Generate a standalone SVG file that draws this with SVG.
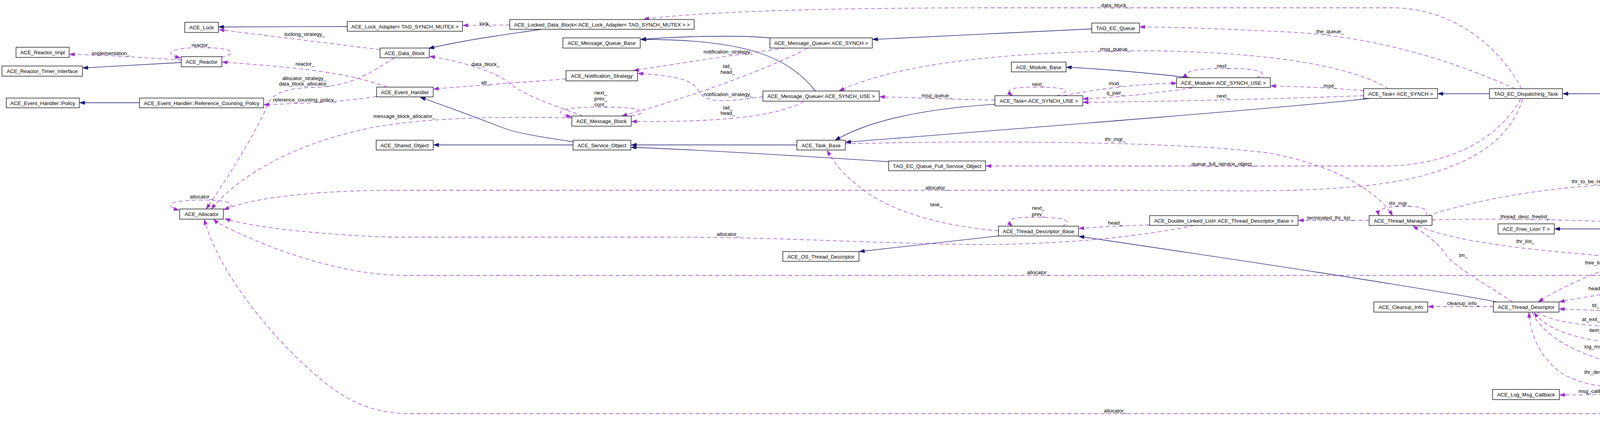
<svg xmlns="http://www.w3.org/2000/svg" width="5088" height="1088" viewBox="0 0 5088 1088">
<style>
.n rect{fill:#fff;stroke:#000;stroke-width:1.3}
.n.focus rect{fill:#bfbfbf}
text{font-family:"Liberation Sans",Arial,Helvetica,sans-serif;font-size:13.33px;text-anchor:middle;fill:#000}
.inh{fill:none;stroke:#191970;stroke-width:1.3;marker-end:url(#ai)}
.use{fill:none;stroke:#9a32cd;stroke-width:1.3;stroke-dasharray:10,7;marker-end:url(#au)}
</style>
<defs>
<marker id="ai" viewBox="0 0 14 10" refX="13.5" refY="5" markerWidth="14" markerHeight="10" orient="auto" markerUnits="userSpaceOnUse"><path d="M0.5,0.5 L13.5,5 L0.5,9.5 z" fill="#191970" stroke="#191970" stroke-width="1"/></marker>
<marker id="au" viewBox="0 0 14 10" refX="13.5" refY="5" markerWidth="14" markerHeight="10" orient="auto" markerUnits="userSpaceOnUse"><path d="M0.5,0.5 L13.5,5 L0.5,9.5 z" fill="#9a32cd" stroke="#9a32cd" stroke-width="1" stroke-dasharray="none"/></marker>
</defs>
<rect width="5088" height="1088" fill="#fff"/>
<g id="connectors">
<path class="inh" d="M4300,240 L4001,240"/>
<path class="inh" d="M3813,240 L3681,240"/>
<path class="inh" d="M3507,252 C3300,275 2700,322 2165,364"/>
<path class="inh" d="M2547,267 C2400,276 2240,300 2138,359"/>
<path class="inh" d="M2040,371 L1616,371"/>
<path class="inh" d="M2275,414 C2000,396 1800,384 1616,377"/>
<path class="inh" d="M1467,371 L1110,371"/>
<path class="inh" d="M1467,363 C1380,350 1320,340 1290,328 C1230,305 1130,268 1076,249"/>
<path class="inh" d="M1386,75 C1300,88 1200,100 1098,124"/>
<path class="inh" d="M889,68 L560,69"/>
<path class="inh" d="M1971,97 C1900,90 1750,92 1640,101"/>
<path class="inh" d="M2088,233 C2020,150 1920,100 1641,101"/>
<path class="inh" d="M2795,74 L2234,101"/>
<path class="inh" d="M3047,199 C2950,188 2850,178 2730,172"/>
<path class="inh" d="M464,160 L212,174"/>
<path class="inh" d="M357,263 L204,263"/>
<path class="inh" d="M3833,773 C3600,730 3200,670 2762,605"/>
<path class="inh" d="M2556,604 L2200,644"/>
<path class="inh" d="M4173,586 L3980,586"/>

<path class="use" d="M973,127 L561,76"/>
<path class="use" d="M1305,64 L1185,65"/>
<path class="use" d="M464,153 C400,150 300,142 178,139"/>
<path class="use" d="M566,146 C605,140 610,122 515,122 C425,122 420,140 462,148"/>
<path class="use" d="M991,223 C900,190 800,175 569,159"/>
<path class="use" d="M1010,148 C950,185 900,222 800,224 C730,225 700,240 688,262 C665,320 600,430 528,535"/>
<path class="use" d="M1464,302 C1300,298 1100,300 960,325 C770,362 620,440 541,535"/>
<path class="use" d="M964,247 C900,258 800,264 676,268"/>
<path class="use" d="M1492,297 C1420,270 1340,245 1300,210 C1260,180 1190,160 1100,144"/>
<path class="use" d="M1449,202 C1350,210 1200,220 1110,228"/>
<path class="use" d="M1616,297 C1660,290 1660,274 1540,274 C1420,274 1415,290 1463,299"/>
<path class="use" d="M2010,123 C1900,138 1750,160 1622,181"/>
<path class="use" d="M2066,124 C1990,165 1800,240 1592,297"/>
<path class="use" d="M1953,248 C1880,256 1810,270 1790,235 C1775,205 1740,195 1633,188"/>
<path class="use" d="M2058,260 C2000,290 1900,313 1617,311"/>
<path class="use" d="M2547,256 C2450,255 2350,250 2252,248"/>
<path class="use" d="M3554,227 C3480,180 3300,135 2950,130 C2600,130 2300,160 2148,233"/>
<path class="use" d="M3895,227 C3840,120 3720,22 3570,20 L2544,20 C2100,20 1800,30 1648,49"/>
<path class="use" d="M3879,227 C3750,170 3550,95 3300,82 C3150,75 3050,70 2918,69"/>
<path class="use" d="M3491,232 C3420,226 3350,222 3253,220"/>
<path class="use" d="M3491,245 C3300,252 3000,260 2773,262"/>
<path class="use" d="M2706,245 C2745,232 2735,223 2652,223 C2575,223 2575,232 2592,245"/>
<path class="use" d="M2722,245 C2800,230 2900,215 3012,213"/>
<path class="use" d="M3052,225 C2950,240 2850,250 2773,253"/>
<path class="use" d="M3217,199 C3245,190 3240,175 3139,175 C3040,175 3025,188 3042,199"/>
<path class="use" d="M2164,368 C2500,360 3000,360 3250,392 C3400,420 3520,480 3565,552"/>
<path class="use" d="M3650,552 C3660,535 3640,528 3597,528 C3545,528 3525,535 3530,552"/>
<path class="use" d="M3655,552 C3800,505 4000,472 4200,471 C4500,472 4850,600 4897,864"/>
<path class="use" d="M3505,564 L3324,564"/>
<path class="use" d="M2943,576 C2880,578 2820,580 2762,585"/>
<path class="use" d="M2720,579 C2745,568 2735,556 2652,556 C2575,556 2575,565 2592,579"/>
<path class="use" d="M2556,591 C2420,580 2300,545 2230,500 C2170,460 2135,420 2118,385"/>
<path class="use" d="M3057,577 C2900,610 2700,626 2500,626 C2200,622 2000,607 1700,607 L1000,607 C800,600 640,580 576,560"/>
<path class="use" d="M4238,705 L1030,705 C900,703 760,660 660,618 C600,592 560,575 547,561"/>
<path class="use" d="M4884,890 C4800,960 4600,1059 4300,1059 L1040,1059 C940,1055 880,1020 820,970 C700,870 560,700 523,562"/>
<path class="use" d="M3898,253 C3860,380 3720,450 3500,475 C3300,495 3150,487 2900,487 L980,487 C800,490 650,505 573,537"/>
<path class="use" d="M3893,253 C3840,350 3720,422 3550,425 L2524,425"/>
<path class="use" d="M3666,563 C3850,558 4100,564 4250,574"/>
<path class="use" d="M3630,578 C3700,610 3850,634 4050,650 C4200,665 4300,680 4345,693"/>
<path class="use" d="M3873,773 C3790,720 3720,680 3700,650 C3680,620 3650,600 3617,578"/>
<path class="use" d="M4364,599 C4250,640 4050,700 3938,773"/>
<path class="use" d="M4316,719 C4200,740 4080,755 3992,773"/>
<path class="use" d="M4335,806 C4250,803 4100,795 3992,791"/>
<path class="use" d="M3935,799 C3980,830 4100,840 4240,836 C4280,834 4310,830 4334,824"/>
<path class="use" d="M4482,799 C4515,790 4510,776 4402,776 C4300,776 4300,790 4330,799"/>
<path class="use" d="M4276,886 C4100,885 3970,860 3927,800"/>
<path class="use" d="M3922,800 C3960,880 4100,945 4352,967"/>
<path class="use" d="M4354,980 C4200,1005 4060,1000 3990,950 C3935,905 3918,850 3914,800"/>
<path class="use" d="M4356,981 C4250,1005 4150,1011 3993,1011"/>
<path class="use" d="M3823,785 L3656,785"/>
<path class="use" d="M4732,876 L4544,876"/>
<path class="use" d="M570,536 C605,528 605,512 515,512 C430,512 420,528 458,538"/>
</g>
<g id="edge-labels">
<text x="780" y="92">locking_strategy_</text>
<text x="515" y="120">reactor_</text>
<text x="284" y="141">implementation_</text>
<text x="781" y="168">reactor_</text>
<text x="779" y="205">allocator_strategy_</text>
<text x="779" y="219">data_block_allocator_</text>
<text x="780" y="260">reference_counting_policy_</text>
<text x="515" y="508">allocator_</text>
<text x="1243" y="65">lock_</text>
<text x="1243" y="169">data_block_</text>
<text x="1243" y="216">eh_</text>
<text x="1538" y="242">next_</text>
<text x="1538" y="257">prev_</text>
<text x="1538" y="272">cont_</text>
<text x="1035" y="302">message_block_allocator_</text>
<text x="1864" y="137">notification_strategy_</text>
<text x="1863" y="174">tail_</text>
<text x="1863" y="189">head_</text>
<text x="1864" y="246">notification_strategy_</text>
<text x="1863" y="280">tail_</text>
<text x="1863" y="294">head_</text>
<text x="2398" y="249">msg_queue_</text>
<text x="2398" y="485">allocator_</text>
<text x="2397" y="528">task_</text>
<text x="2855" y="18">data_block_</text>
<text x="3405" y="85">the_queue_</text>
<text x="2855" y="130">msg_queue_</text>
<text x="3131" y="173">next_</text>
<text x="2658" y="220">next_</text>
<text x="2855" y="218">mod_</text>
<text x="2855" y="242">q_pair_</text>
<text x="3131" y="250">next_</text>
<text x="3405" y="224">mod_</text>
<text x="2855" y="361">thr_mgr_</text>
<text x="3131" y="424">queue_full_service_object_</text>
<text x="2658" y="537">next_</text>
<text x="2658" y="553">prev_</text>
<text x="4085" y="469">thr_to_be_removed_</text>
<text x="3583" y="525">thr_mgr_</text>
<text x="1864" y="604">allocator_</text>
<text x="2855" y="575">head_</text>
<text x="3405" y="562">terminated_thr_list_</text>
<text x="2658" y="702">allocator_</text>
<text x="2855" y="1056">allocator_</text>
<text x="3905" y="559">thread_desc_freelist_</text>
<text x="3905" y="622">thr_list_</text>
<text x="3746" y="658">tm_</text>
<text x="4085" y="677">free_list_</text>
<text x="4085" y="743">head_</text>
<text x="3746" y="781">cleanup_info_</text>
<text x="4085" y="786">td_</text>
<text x="4085" y="822">at_exit_list_</text>
<text x="4085" y="850">item_</text>
<text x="4085" y="892">log_msg_</text>
<text x="4085" y="957">thr_desc_</text>
<text x="4085" y="1006">msg_callback_</text>
<text x="4409" y="772">next_</text>
<text x="4687" y="872">head_</text>
</g>
<g id="n1" class="n"><rect x="473" y="57" width="86" height="26"/><text x="516" y="75">ACE_Lock</text></g>
<g id="n2" class="n"><rect x="41" y="121" width="136" height="26"/><text x="109" y="139">ACE_Reactor_Impl</text></g>
<g id="n3" class="n"><rect x="464" y="145" width="104" height="26"/><text x="516" y="163">ACE_Reactor</text></g>
<g id="n4" class="n"><rect x="5" y="169" width="206" height="26"/><text x="108" y="187">ACE_Reactor_Timer_Interface</text></g>
<g id="n5" class="n"><rect x="16" y="251" width="187" height="25"/><text x="109.5" y="268.5">ACE_Event_Handler::Policy</text></g>
<g id="n6" class="n"><rect x="357" y="251" width="318" height="25"/><text x="516" y="268.5">ACE_Event_Handler::Reference_Counting_Policy</text></g>
<g id="n7" class="n"><rect x="460" y="535" width="112" height="26"/><text x="516" y="553">ACE_Allocator</text></g>
<g id="n8" class="n"><rect x="889" y="55" width="295" height="25"/><text x="1036.5" y="72.5">ACE_Lock_Adapter&lt; TAO_SYNCH_MUTEX &gt;</text></g>
<g id="n9" class="n"><rect x="1305" y="50" width="472" height="25"/><text x="1541" y="67.5">ACE_Locked_Data_Block&lt; ACE_Lock_Adapter&lt; TAO_SYNCH_MUTEX &gt; &gt;</text></g>
<g id="n10" class="n"><rect x="1441" y="97" width="198" height="26"/><text x="1540" y="115">ACE_Message_Queue_Base</text></g>
<g id="n11" class="n"><rect x="973" y="123" width="126" height="25"/><text x="1036" y="140.5">ACE_Data_Block</text></g>
<g id="n12" class="n"><rect x="1449" y="181" width="183" height="26"/><text x="1540.5" y="199">ACE_Notification_Strategy</text></g>
<g id="n13" class="n"><rect x="964" y="223" width="145" height="25"/><text x="1036.5" y="240.5">ACE_Event_Handler</text></g>
<g id="n14" class="n"><rect x="1464" y="297" width="152" height="26"/><text x="1540" y="315">ACE_Message_Block</text></g>
<g id="n15" class="n"><rect x="963" y="359" width="146" height="25"/><text x="1036" y="376.5">ACE_Shared_Object</text></g>
<g id="n16" class="n"><rect x="1467" y="359" width="148" height="25"/><text x="1541" y="376.5">ACE_Service_Object</text></g>
<g id="n17" class="n"><rect x="1971" y="97" width="262" height="26"/><text x="2102" y="115">ACE_Message_Queue&lt; ACE_SYNCH &gt;</text></g>
<g id="n18" class="n"><rect x="1953" y="233" width="298" height="26"/><text x="2102" y="251">ACE_Message_Queue&lt; ACE_SYNCH_USE &gt;</text></g>
<g id="n19" class="n"><rect x="2040" y="359" width="124" height="25"/><text x="2102" y="376.5">ACE_Task_Base</text></g>
<g id="n20" class="n"><rect x="2275" y="412" width="248" height="25"/><text x="2399" y="429.5">TAO_EC_Queue_Full_Service_Object</text></g>
<g id="n21" class="n"><rect x="2795" y="59" width="122" height="25"/><text x="2856" y="76.5">TAO_EC_Queue</text></g>
<g id="n22" class="n"><rect x="2589" y="159" width="140" height="25"/><text x="2659" y="176.5">ACE_Module_Base</text></g>
<g id="n23" class="n"><rect x="3012" y="199" width="240" height="25"/><text x="3132" y="216.5">ACE_Module&lt; ACE_SYNCH_USE &gt;</text></g>
<g id="n24" class="n"><rect x="2547" y="245" width="225" height="26"/><text x="2659.5" y="263">ACE_Task&lt; ACE_SYNCH_USE &gt;</text></g>
<g id="n25" class="n"><rect x="3491" y="227" width="189" height="25"/><text x="3585.5" y="244.5">ACE_Task&lt; ACE_SYNCH &gt;</text></g>
<g id="n26" class="n"><rect x="3813" y="227" width="187" height="25"/><text x="3906.5" y="244.5">TAO_EC_Dispatching_Task</text></g>
<g id="n27" class="n focus"><rect x="4300" y="227" width="221" height="25"/><text x="4410.5" y="244.5">TAO_EC_TPC_Dispatching_Task</text></g>
<g id="n28" class="n"><rect x="2004" y="644" width="195" height="25"/><text x="2101.5" y="661.5">ACE_OS_Thread_Descriptor</text></g>
<g id="n29" class="n"><rect x="2556" y="579" width="205" height="25"/><text x="2658.5" y="596.5">ACE_Thread_Descriptor_Base</text></g>
<g id="n30" class="n"><rect x="2943" y="552" width="380" height="25"/><text x="3133" y="569.5">ACE_Double_Linked_List&lt; ACE_Thread_Descriptor_Base &gt;</text></g>
<g id="n31" class="n"><rect x="3505" y="552" width="161" height="25"/><text x="3585.5" y="569.5">ACE_Thread_Manager</text></g>
<g id="n32" class="n"><rect x="3835" y="573" width="144" height="26"/><text x="3907" y="591">ACE_Free_List&lt; T &gt;</text></g>
<g id="n33" class="n"><rect x="4173" y="573" width="473" height="26"/><text x="4409.5" y="591">ACE_Locked_Free_List&lt; ACE_Thread_Descriptor, ACE_SYNCH_MUTEX &gt;</text></g>
<g id="n34" class="n"><rect x="4238" y="693" width="343" height="26"/><text x="4409.5" y="711">ACE_Double_Linked_List&lt; ACE_Thread_Descriptor &gt;</text></g>
<g id="n35" class="n"><rect x="3517" y="773" width="138" height="26"/><text x="3586" y="791">ACE_Cleanup_Info</text></g>
<g id="n36" class="n"><rect x="3823" y="773" width="168" height="26"/><text x="3907" y="791">ACE_Thread_Descriptor</text></g>
<g id="n37" class="n"><rect x="3821" y="997" width="171" height="26"/><text x="3906.5" y="1015">ACE_Log_Msg_Callback</text></g>
<g id="n38" class="n"><rect x="4335" y="799" width="149" height="25"/><text x="4409.5" y="816.5">ACE_At_Thread_Exit</text></g>
<g id="n39" class="n"><rect x="4276" y="864" width="267" height="25"/><text x="4409.5" y="881.5">ACE_Node&lt; ACE_Thread_Descriptor * &gt;</text></g>
<g id="n40" class="n"><rect x="4732" y="864" width="352" height="25"/><text x="4908" y="881.5">ACE_Unbounded_Queue&lt; ACE_Thread_Descriptor * &gt;</text></g>
<g id="n41" class="n"><rect x="4353" y="955" width="115" height="25"/><text x="4410.5" y="972.5">ACE_Log_Msg</text></g>
</svg>
